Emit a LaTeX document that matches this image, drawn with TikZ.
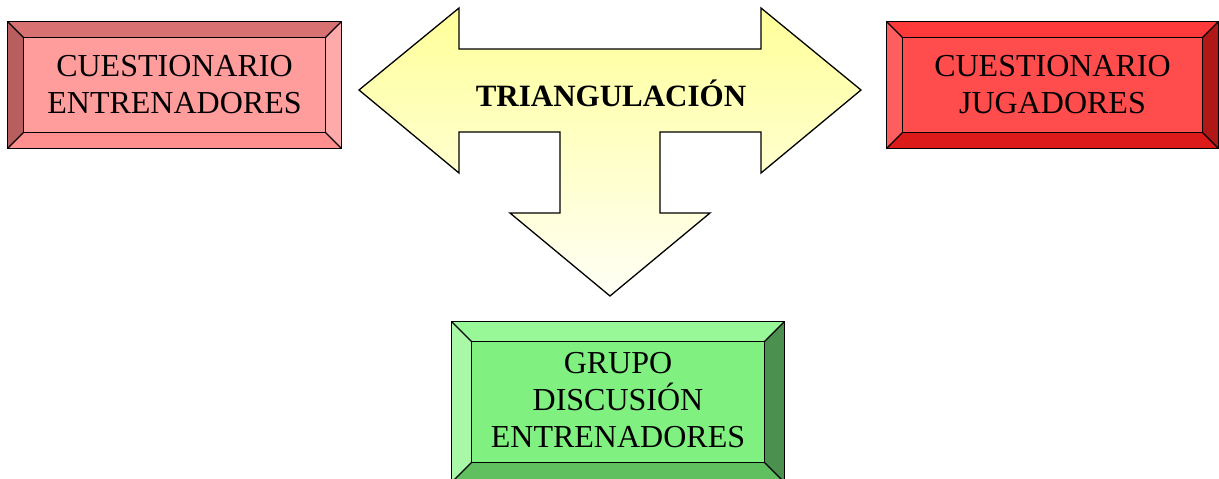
\documentclass[tikz,border=0pt]{standalone}
\usepackage{fontspec}
\setmainfont{Liberation Serif}
\begin{document}
\begin{tikzpicture}[x=1pt,y=-1pt,
  edge/.style={draw=black,line width=1.3pt,line join=miter},
  boxtext/.style={font=\fontsize{32}{37}\selectfont,align=center,text=black,inner sep=0pt},
  boxnode/.style={rectangle,inner sep=0pt,draw=none}]
\definecolor{lface}{HTML}{FF9C9C}\definecolor{ltop}{HTML}{D87272}
\definecolor{lleft}{HTML}{B85E5E}\definecolor{lright}{HTML}{FFAAAA}\definecolor{lbot}{HTML}{FF8E8E}
\definecolor{rface}{HTML}{FF4C4C}\definecolor{rtop}{HTML}{FF3A3A}
\definecolor{rleft}{HTML}{FF5E5E}\definecolor{rright}{HTML}{B01818}\definecolor{rbot}{HTML}{DC1A1A}
\definecolor{gface}{HTML}{80F080}\definecolor{gtop}{HTML}{98F898}
\definecolor{gleft}{HTML}{A8F8A8}\definecolor{gright}{HTML}{4C9050}\definecolor{gbot}{HTML}{60C060}
\definecolor{ayel}{HTML}{FFFF99}\definecolor{awht}{HTML}{FFFFF6}
\useasboundingbox (0,0) rectangle (1219,479);
\newcommand\mybevel[6]{%
 \path (#1.north west) coordinate (#1-a) (#1.north east) coordinate (#1-b)
       (#1.south east) coordinate (#1-c) (#1.south west) coordinate (#1-d);
 \path ([shift={(#2,#2)}]#1.north west) coordinate (#1-ia)
       ([shift={(-#2,#2)}]#1.north east) coordinate (#1-ib)
       ([shift={(-#2,-#2)}]#1.south east) coordinate (#1-ic)
       ([shift={(#2,-#2)}]#1.south west) coordinate (#1-id);
 \fill[#3] (#1-a) -- (#1-b) -- (#1-ib) -- (#1-ia) -- cycle;
 \fill[#4] (#1-a) -- (#1-ia) -- (#1-id) -- (#1-d) -- cycle;
 \fill[#5] (#1-b) -- (#1-c) -- (#1-ic) -- (#1-ib) -- cycle;
 \fill[#6] (#1-d) -- (#1-id) -- (#1-ic) -- (#1-c) -- cycle;
 \draw[edge] (#1-a) rectangle (#1-c);
 \draw[edge] (#1-ia) rectangle (#1-ic);
 \draw[edge] (#1-a) -- (#1-ia) (#1-b) -- (#1-ib) (#1-c) -- (#1-ic) (#1-d) -- (#1-id);
}
% arrow
\shade[top color=ayel,bottom color=awht,draw=black,line width=1.3pt,line join=miter]
 (359,90) -- (459,8) -- (459,49) -- (761,49) -- (761,8) -- (861,90) -- (761,173)
 -- (761,132) -- (660,132) -- (660,213) -- (710,213) -- (610,296) -- (510,213)
 -- (560,213) -- (560,132) -- (459,132) -- (459,173) -- cycle;
\node[inner sep=0pt,font=\fontsize{31}{36}\selectfont\bfseries] (tri) at (611,93) {TRIANGULACIÓN};
% boxes
\node[boxnode,fill=lface,minimum width=333,minimum height=126] (ce) at (174.5,85) {};
\mybevel{ce}{16}{ltop}{lleft}{lright}{lbot}
\node[boxtext] (cet) at (ce.center) {CUESTIONARIO\\ENTRENADORES};
\node[boxnode,fill=rface,minimum width=331,minimum height=126] (cj) at (1052.5,85) {};
\mybevel{cj}{16}{rtop}{rleft}{rright}{rbot}
\node[boxtext] (cjt) at (cj.center) {CUESTIONARIO\\JUGADORES};
\node[boxnode,fill=gface,minimum width=332,minimum height=160] (gd) at (618,402) {};
\mybevel{gd}{20}{gtop}{gleft}{gright}{gbot}
\node[boxtext] (gdt) at ([yshift=2]gd.center) {GRUPO\\DISCUSIÓN\\ENTRENADORES};
\end{tikzpicture}
\end{document}
